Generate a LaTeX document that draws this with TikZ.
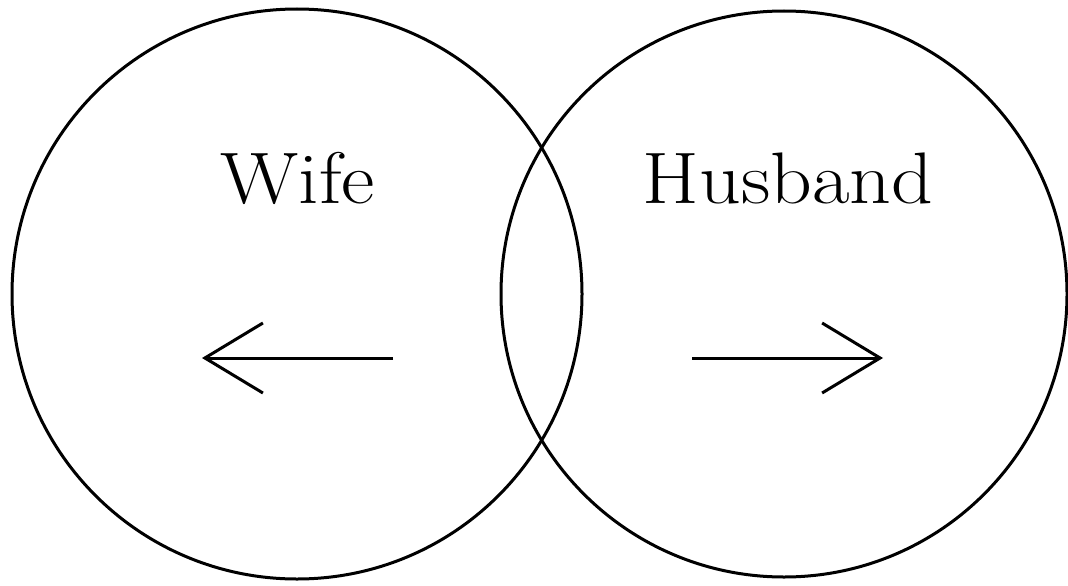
\documentclass[tikz,border=0pt]{standalone}
\usetikzlibrary{arrows.meta}
\begin{document}
\begin{tikzpicture}[x=1pt,y=-1pt,
  ring/.style={draw=black,line width=3pt},
  label/.style={anchor=base,inner sep=0pt,xscale=1.12,font=\fontsize{73}{80}\selectfont},
  pointer/.style={line width=3pt,-{Straight Barb[length=58pt,width=70pt,line width=3pt]}}]
\useasboundingbox (0,0) rectangle (1068,586);
\fill[white] (0,0) rectangle (1068,586);
\node[ring,circle,minimum size=570pt,inner sep=0pt] (wifec) at (297,294) {};
\node[ring,circle,minimum size=566pt,inner sep=0pt] (husbc) at (784,294) {};
\node[label] (wife) at (298,203) {Wife};
\node[label] (husb) at (788,203) {Husband};
\coordinate (wt) at (393,358);
\coordinate (wh) at (202,358);
\coordinate (ht) at (692,358);
\coordinate (hh) at (883,358);
\draw[pointer] (wt) -- (wh);
\draw[pointer] (ht) -- (hh);
\end{tikzpicture}
\end{document}
